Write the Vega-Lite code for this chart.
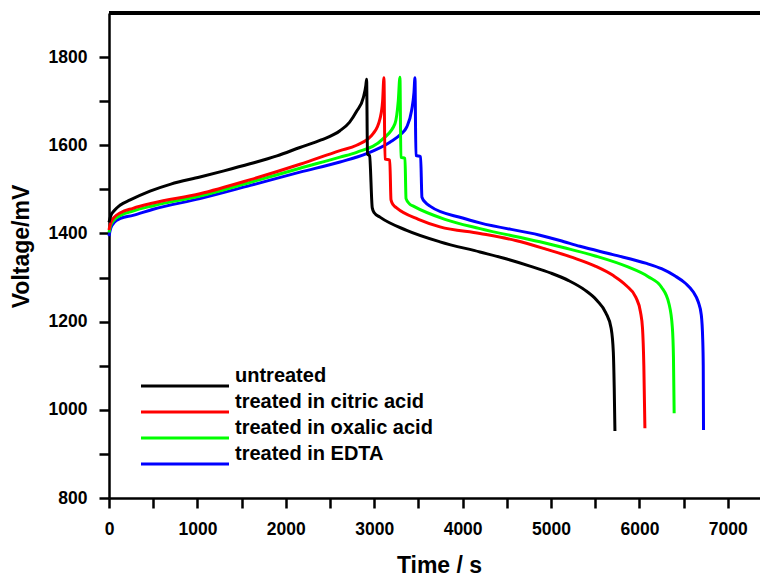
{
  "$schema": "https://vega.github.io/schema/vega-lite/v6.json",
  "autosize": "none",
  "padding": {"left": 109, "top": 13, "right": 0, "bottom": 78},
  "width": 651,
  "height": 485,
  "background": "white",
  "config": {
    "view": {"stroke": null},
    "font": "Liberation Sans"
  },
  "datasets": {
    "curves": [
      {"s": "treated in EDTA", "t": 0, "v": 1394}, {"s": "treated in EDTA", "t": 20, "v": 1412}, {"s": "treated in EDTA", "t": 60, "v": 1425}, {"s": "treated in EDTA", "t": 130, "v": 1434}, {"s": "treated in EDTA", "t": 271, "v": 1441}, {"s": "treated in EDTA", "t": 500, "v": 1455}, {"s": "treated in EDTA", "t": 1029, "v": 1479}, {"s": "treated in EDTA", "t": 1600, "v": 1509}, {"s": "treated in EDTA", "t": 2160, "v": 1539}, {"s": "treated in EDTA", "t": 2613, "v": 1562}, {"s": "treated in EDTA", "t": 2914, "v": 1581}, {"s": "treated in EDTA", "t": 3178, "v": 1607}, {"s": "treated in EDTA", "t": 3300, "v": 1625}, {"s": "treated in EDTA", "t": 3367, "v": 1641}, {"s": "treated in EDTA", "t": 3423, "v": 1679}, {"s": "treated in EDTA", "t": 3450, "v": 1720}, {"s": "treated in EDTA", "t": 3461, "v": 1753}, {"s": "treated in EDTA", "t": 3472, "v": 1577}, {"s": "treated in EDTA", "t": 3525, "v": 1574}, {"s": "treated in EDTA", "t": 3540, "v": 1482}, {"s": "treated in EDTA", "t": 3580, "v": 1470}, {"s": "treated in EDTA", "t": 3631, "v": 1462}, {"s": "treated in EDTA", "t": 4000, "v": 1435}, {"s": "treated in EDTA", "t": 4196, "v": 1424}, {"s": "treated in EDTA", "t": 4875, "v": 1396}, {"s": "treated in EDTA", "t": 5101, "v": 1384}, {"s": "treated in EDTA", "t": 5327, "v": 1371}, {"s": "treated in EDTA", "t": 5700, "v": 1352}, {"s": "treated in EDTA", "t": 6081, "v": 1332}, {"s": "treated in EDTA", "t": 6250, "v": 1320}, {"s": "treated in EDTA", "t": 6400, "v": 1304}, {"s": "treated in EDTA", "t": 6520, "v": 1287}, {"s": "treated in EDTA", "t": 6610, "v": 1267}, {"s": "treated in EDTA", "t": 6665, "v": 1245}, {"s": "treated in EDTA", "t": 6700, "v": 1215}, {"s": "treated in EDTA", "t": 6716, "v": 1160}, {"s": "treated in EDTA", "t": 6722, "v": 1100}, {"s": "treated in EDTA", "t": 6725, "v": 954},
      {"s": "treated in oxalic acid", "t": 0, "v": 1402}, {"s": "treated in oxalic acid", "t": 20, "v": 1419}, {"s": "treated in oxalic acid", "t": 60, "v": 1431}, {"s": "treated in oxalic acid", "t": 130, "v": 1441}, {"s": "treated in oxalic acid", "t": 271, "v": 1451}, {"s": "treated in oxalic acid", "t": 500, "v": 1463}, {"s": "treated in oxalic acid", "t": 1029, "v": 1485}, {"s": "treated in oxalic acid", "t": 1600, "v": 1516}, {"s": "treated in oxalic acid", "t": 2160, "v": 1548}, {"s": "treated in oxalic acid", "t": 2613, "v": 1573}, {"s": "treated in oxalic acid", "t": 2801, "v": 1584}, {"s": "treated in oxalic acid", "t": 3102, "v": 1615}, {"s": "treated in oxalic acid", "t": 3235, "v": 1649}, {"s": "treated in oxalic acid", "t": 3272, "v": 1700}, {"s": "treated in oxalic acid", "t": 3291, "v": 1754}, {"s": "treated in oxalic acid", "t": 3302, "v": 1573}, {"s": "treated in oxalic acid", "t": 3348, "v": 1570}, {"s": "treated in oxalic acid", "t": 3360, "v": 1479}, {"s": "treated in oxalic acid", "t": 3400, "v": 1467}, {"s": "treated in oxalic acid", "t": 3443, "v": 1462}, {"s": "treated in oxalic acid", "t": 3800, "v": 1432}, {"s": "treated in oxalic acid", "t": 4196, "v": 1411}, {"s": "treated in oxalic acid", "t": 4875, "v": 1381}, {"s": "treated in oxalic acid", "t": 5138, "v": 1368}, {"s": "treated in oxalic acid", "t": 5500, "v": 1349}, {"s": "treated in oxalic acid", "t": 5870, "v": 1324}, {"s": "treated in oxalic acid", "t": 6100, "v": 1302}, {"s": "treated in oxalic acid", "t": 6250, "v": 1278}, {"s": "treated in oxalic acid", "t": 6335, "v": 1240}, {"s": "treated in oxalic acid", "t": 6372, "v": 1188}, {"s": "treated in oxalic acid", "t": 6385, "v": 1120}, {"s": "treated in oxalic acid", "t": 6393, "v": 992},
      {"s": "treated in citric acid", "t": 0, "v": 1408}, {"s": "treated in citric acid", "t": 20, "v": 1425}, {"s": "treated in citric acid", "t": 60, "v": 1437}, {"s": "treated in citric acid", "t": 130, "v": 1447}, {"s": "treated in citric acid", "t": 271, "v": 1457}, {"s": "treated in citric acid", "t": 500, "v": 1469}, {"s": "treated in citric acid", "t": 1029, "v": 1490}, {"s": "treated in citric acid", "t": 1600, "v": 1522}, {"s": "treated in citric acid", "t": 2160, "v": 1557}, {"s": "treated in citric acid", "t": 2613, "v": 1588}, {"s": "treated in citric acid", "t": 2801, "v": 1600}, {"s": "treated in citric acid", "t": 2990, "v": 1627}, {"s": "treated in citric acid", "t": 3065, "v": 1660}, {"s": "treated in citric acid", "t": 3095, "v": 1700}, {"s": "treated in citric acid", "t": 3110, "v": 1753}, {"s": "treated in citric acid", "t": 3122, "v": 1569}, {"s": "treated in citric acid", "t": 3176, "v": 1566}, {"s": "treated in citric acid", "t": 3190, "v": 1476}, {"s": "treated in citric acid", "t": 3215, "v": 1465}, {"s": "treated in citric acid", "t": 3253, "v": 1458}, {"s": "treated in citric acid", "t": 3500, "v": 1432}, {"s": "treated in citric acid", "t": 3744, "v": 1415}, {"s": "treated in citric acid", "t": 4196, "v": 1400}, {"s": "treated in citric acid", "t": 4600, "v": 1384}, {"s": "treated in citric acid", "t": 4950, "v": 1364}, {"s": "treated in citric acid", "t": 5250, "v": 1345}, {"s": "treated in citric acid", "t": 5500, "v": 1326}, {"s": "treated in citric acid", "t": 5700, "v": 1305}, {"s": "treated in citric acid", "t": 5850, "v": 1282}, {"s": "treated in citric acid", "t": 5960, "v": 1255}, {"s": "treated in citric acid", "t": 6012, "v": 1222}, {"s": "treated in citric acid", "t": 6035, "v": 1185}, {"s": "treated in citric acid", "t": 6050, "v": 1100}, {"s": "treated in citric acid", "t": 6062, "v": 958},
      {"s": "untreated", "t": 0, "v": 1425}, {"s": "untreated", "t": 20, "v": 1440}, {"s": "untreated", "t": 60, "v": 1452}, {"s": "untreated", "t": 124, "v": 1464}, {"s": "untreated", "t": 240, "v": 1476}, {"s": "untreated", "t": 464, "v": 1496}, {"s": "untreated", "t": 700, "v": 1512}, {"s": "untreated", "t": 1029, "v": 1528}, {"s": "untreated", "t": 1300, "v": 1542}, {"s": "untreated", "t": 1595, "v": 1558}, {"s": "untreated", "t": 1900, "v": 1576}, {"s": "untreated", "t": 2160, "v": 1595}, {"s": "untreated", "t": 2400, "v": 1612}, {"s": "untreated", "t": 2613, "v": 1633}, {"s": "untreated", "t": 2720, "v": 1652}, {"s": "untreated", "t": 2801, "v": 1677}, {"s": "untreated", "t": 2877, "v": 1708}, {"s": "untreated", "t": 2905, "v": 1735}, {"s": "untreated", "t": 2914, "v": 1750}, {"s": "untreated", "t": 2924, "v": 1580}, {"s": "untreated", "t": 2948, "v": 1576}, {"s": "untreated", "t": 2978, "v": 1458}, {"s": "untreated", "t": 3000, "v": 1447}, {"s": "untreated", "t": 3065, "v": 1437}, {"s": "untreated", "t": 3367, "v": 1407}, {"s": "untreated", "t": 3744, "v": 1381}, {"s": "untreated", "t": 4196, "v": 1358}, {"s": "untreated", "t": 4500, "v": 1342}, {"s": "untreated", "t": 4762, "v": 1326}, {"s": "untreated", "t": 5000, "v": 1310}, {"s": "untreated", "t": 5200, "v": 1293}, {"s": "untreated", "t": 5380, "v": 1272}, {"s": "untreated", "t": 5520, "v": 1248}, {"s": "untreated", "t": 5620, "v": 1220}, {"s": "untreated", "t": 5680, "v": 1185}, {"s": "untreated", "t": 5705, "v": 1130}, {"s": "untreated", "t": 5715, "v": 1050}, {"s": "untreated", "t": 5723, "v": 952}
    ]
  },
  "data": {"name": "curves"},
  "resolve": {"axis": {"x": "independent", "y": "independent"}},
  "layer": [
    {
      "mark": {"type": "line", "strokeWidth": 3, "interpolate": "monotone"},
      "encoding": {
        "x": {
          "field": "t", "type": "quantitative",
          "scale": {"domain": [0, 7364], "nice": false, "zero": false},
          "axis": {
            "values": [0, 500, 1000, 1500, 2000, 2500, 3000, 3500, 4000, 4500, 5000, 5500, 6000, 6500, 7000],
            "labels": false, "domain": false, "title": null, "grid": false,
            "tickColor": "black", "tickWidth": 2.5, "tickSize": 10
          }
        },
        "y": {
          "field": "v", "type": "quantitative",
          "scale": {"domain": [800, 1900], "nice": false, "zero": false},
          "axis": {
            "values": [800, 900, 1000, 1100, 1200, 1300, 1400, 1500, 1600, 1700, 1800],
            "labels": false, "domain": false, "title": null, "grid": false,
            "tickColor": "black", "tickWidth": 2.5, "tickSize": 10
          }
        },
        "color": {
          "field": "s", "type": "nominal",
          "scale": {
            "domain": ["untreated", "treated in citric acid", "treated in oxalic acid", "treated in EDTA"],
            "range": ["#000000", "#ff0000", "#00ff00", "#0000ff"]
          },
          "legend": {
            "orient": "none", "legendX": 22, "legendY": 353,
            "title": null, "padding": 0,
            "symbolType": "M0,2H17.6", "symbolSize": 100, "symbolStrokeWidth": 3,
            "labelFont": "Liberation Sans", "labelFontWeight": "bold", "labelFontSize": 20, "labelColor": "black",
            "labelOffset": 84, "labelBaseline": "middle", "rowPadding": 0, "labelLimit": 400
          }
        }
      }
    },
    {
      "mark": {"type": "rule", "color": "black", "strokeWidth": 2.5},
      "encoding": {
        "x": {
          "datum": 0, "type": "quantitative",
          "axis": {
            "orient": "bottom",
            "values": [0, 1000, 2000, 3000, 4000, 5000, 6000, 7000],
            "format": "d", "grid": false, "ticks": false, "tickSize": 0,
            "domainColor": "black", "domainWidth": 2.5,
            "labelFlush": false, "labelOverlap": false,
            "labelFont": "Liberation Sans", "labelFontWeight": "bold", "labelFontSize": 17.5, "labelColor": "black", "labelPadding": 22,
            "title": "Time / s", "titleFont": "Liberation Sans", "titleFontSize": 23, "titleFontWeight": "bold", "titleColor": "black", "titlePadding": 17, "titleX": 330
          }
        },
        "x2": {"datum": 7364},
        "y": {
          "datum": 1900, "type": "quantitative",
          "axis": {
            "orient": "left",
            "values": [800, 1000, 1200, 1400, 1600, 1800],
            "format": "d", "grid": false, "ticks": false, "tickSize": 0,
            "domainColor": "black", "domainWidth": 2.5,
            "labelFlush": false, "labelOverlap": false,
            "labelFont": "Liberation Sans", "labelFontWeight": "bold", "labelFontSize": 17.5, "labelColor": "black", "labelPadding": 22,
            "title": "Voltage/mV", "titleFont": "Liberation Sans", "titleFontSize": 23, "titleFontWeight": "bold", "titleColor": "black", "titlePadding": 15, "titleY": 233
          }
        }
      }
    }
  ]
}
